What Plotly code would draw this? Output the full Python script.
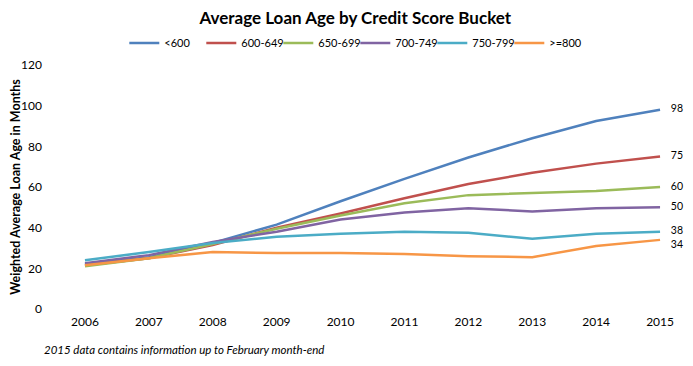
import plotly.graph_objects as go

years = ["2006", "2007", "2008", "2009", "2010", "2011", "2012", "2013", "2014", "2015"]
names = ["<600", "600-649", "650-699", "700-749", "750-799", ">=800"]
s_lt600 = [22, 25.5, 32.5, 41.5, 53, 64, 74.5, 84, 92.5, 98]
s_600_649 = [21.5, 25, 31.5, 40, 47, 54.5, 61.5, 67, 71.5, 75]
s_650_699 = [21, 25, 32, 39.5, 46, 52, 56, 57, 58, 60]
s_700_749 = [22.5, 26.5, 33, 38, 44, 47.5, 49.5, 48, 49.5, 50]
s_750_799 = [24, 28, 32.5, 35.5, 37, 38, 37.5, 34.5, 37, 38]
s_ge800 = [21.5, 25, 28, 27.5, 27.5, 27, 26, 25.5, 31, 34]
end_labels = ["98", "75", "60", "50", "38", "34"]
series = [s_lt600, s_600_649, s_650_699, s_700_749, s_750_799, s_ge800]
colors = ["#4F81BD", "#C0504D", "#9BBB59", "#8064A2", "#4BACC6", "#F79646"]
label_pos = ["middle right", "middle right", "middle right", "middle right", "middle right", "bottom right"]

FONT = "Lato, Open Sans, sans-serif"
# The page body has an 8px margin, so the figure is drawn 8px smaller and offset.
W, H = 685, 358
fig = go.Figure()
for name, vals, col, lab, pos in zip(names, series, colors, end_labels, label_pos):
    texts = [""] * (len(vals) - 1) + ["    " + lab]
    fig.add_trace(go.Scatter(
        x=list(range(len(years))), y=vals, name=name, mode="lines+text",
        line=dict(color=col, width=2.5),
        text=texts, textposition=pos,
        textfont=dict(family=FONT, size=10.5, color="#000000"),
        cliponaxis=False,
    ))

fig.update_layout(
    width=W, height=H,
    margin=dict(l=45, r=1, t=57, b=57, autoexpand=False),
    paper_bgcolor="white", plot_bgcolor="white",
    font=dict(family=FONT, size=12, color="#000000"),
    title=dict(text="<b>Average Loan Age by Credit Score Bucket</b>",
               xref="container", x=0.507, xanchor="center",
               yref="container", y=0.971, yanchor="middle",
               font=dict(size=17, family=FONT)),
    legend=dict(orientation="h", xref="container", x=0.507, xanchor="center",
                yref="container", y=0.902, yanchor="middle",
                font=dict(size=11, family=FONT), itemwidth=30,
                entrywidthmode="pixels", entrywidth=32),
    showlegend=True,
    annotations=[dict(text="<i>2015 data contains information up to February month-end</i>",
                      xref="paper", yref="paper", x=-0.017, y=-0.168, xanchor="left",
                      yanchor="middle", showarrow=False, font=dict(size=11.5, family=FONT))],
)
fig.update_xaxes(range=[-0.5, 9.5], tickmode="array", tickvals=list(range(len(years))),
                 ticktext=years, showgrid=False, showline=False, zeroline=False,
                 tickfont=dict(size=12), ticks="", ticklabelstandoff=4)
fig.update_yaxes(range=[0, 120], dtick=20, showgrid=False, showline=False, zeroline=False,
                 tickfont=dict(size=12), ticks="", ticklabelstandoff=10,
                 title=dict(text="<b>Weighted Average Loan Age in Months</b>",
                            font=dict(size=12.5), standoff=8))
fig.write_html("out.html")
